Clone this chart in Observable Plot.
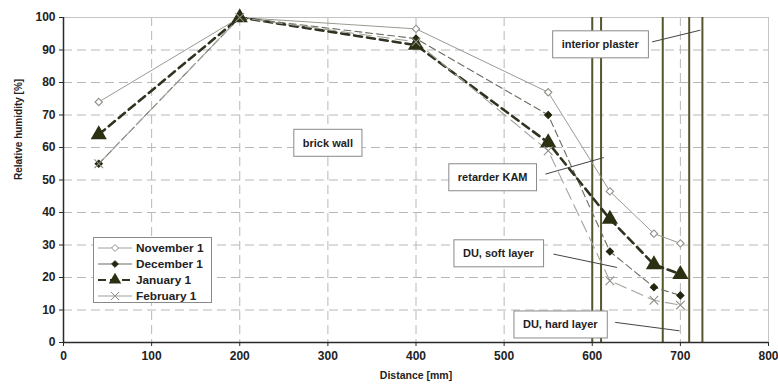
<!DOCTYPE html>
<html><head><meta charset="utf-8">
<script src="https://cdn.jsdelivr.net/npm/d3@7"></script>
<script src="https://cdn.jsdelivr.net/npm/@observablehq/plot@0.6"></script>
<style>
body{margin:0;background:#fff;font-family:"Liberation Sans",Arial,sans-serif}
#chart{position:relative;width:778px;height:385px}
.legend{position:absolute;left:93px;top:237px;width:119px;height:66px;border:1px solid #8a8a8a;background:#fff;box-sizing:border-box;padding:2px 0 0 3px}
.legend div{height:16px;display:flex;align-items:center;font:bold 11.8px "Liberation Sans",Arial,sans-serif;color:#222}
.legend svg{margin-right:3px}
</style>
</head><body><div id="chart"></div>
<script>
// ---- data ----
const distance = [40, 200, 400, 550, 620, 670, 700];
const november = [74, 100, 96.5, 77, 46.5, 33.5, 30.5];
const december = [55, 100, 93.5, 70, 28, 17, 14.5];
const january  = [64, 100, 91.5, 61.5, 38, 24, 21];
const february = [55, 100, 92.5, 59, 19, 13, 11.5];
const seriesNames = ["November 1", "December 1", "January 1", "February 1"];
const layerBoundaries = [600, 610, 680, 710, 725];
const xTicks = [0, 100, 200, 300, 400, 500, 600, 700, 800];
const yTicks = [0, 10, 20, 30, 40, 50, 60, 70, 80, 90, 100];
const annotationLabels = ["brick wall", "interior plaster", "retarder KAM", "DU, soft layer", "DU, hard layer"];
const annotationX = [300, 609, 487, 493.5, 563.7];
const annotationY = [61.3, 91.6, 50.7, 27.3, 5.4];
// leader lines (from box edge to the layer)
const leaderX1 = [668, 546.8, 556, 626];
const leaderY1 = [92.5, 51.8, 27.2, 6.2];
const leaderX2 = [722.7, 613, 628, 699];
const leaderY2 = [96.1, 56.9, 23.1, 3.6];

// ---- styles ----
const styles = {
  "November 1": {stroke:"#9a9a92", width:1, dash:null, symbol:"diamond2", r:3.3, fill:"#fff", mstroke:"#8f8f88"},
  "December 1": {stroke:"#6c6c60", width:1.1, dash:"7,4", symbol:"diamond2", r:3.2, fill:"#23260f", mstroke:"#23260f"},
  "January 1":  {stroke:"#2f3320", width:2.6, dash:"8,5", symbol:"triangle", r:6, fill:"#2b3012", mstroke:"none"},
  "February 1": {stroke:"#a4a49c", width:1.1, dash:"12,6", symbol:"times", r:4, fill:"none", mstroke:"#8e8e86"}
};
const valuesBySeries = [november, december, january, february];
const rows = [];
seriesNames.forEach((s, i) => distance.forEach((d, j) => rows.push({series:s, x:d, y:valuesBySeries[i][j]})));
const annotations = annotationLabels.map((t, i) => ({t, x:annotationX[i], y:annotationY[i]}));
const leaders = leaderX1.map((x1, i) => ({x1, y1:leaderY1[i], x2:leaderX2[i], y2:leaderY2[i]}));

const marks = [
  Plot.ruleY(yTicks.filter(v => v > 0 && v < 100), {stroke:"#b8b8b8", strokeDasharray:"9,5", strokeWidth:1}),
  Plot.ruleX(xTicks.filter(v => v > 0 && v < 800), {stroke:"#b8b8b8", strokeDasharray:"9,5", strokeWidth:1}),
  Plot.ruleY([100], {stroke:"#c4c4c4"}),
  Plot.ruleX([800], {stroke:"#c4c4c4"}),
  Plot.ruleX(layerBoundaries, {y1:0, y2:100, stroke:"#55562e", strokeWidth:2})
];
seriesNames.forEach(s => {
  const st = styles[s];
  const data = rows.filter(r => r.series === s);
  marks.push(Plot.line(data, {x:"x", y:"y", stroke:st.stroke, strokeWidth:st.width, strokeDasharray:st.dash}));
});
seriesNames.forEach(s => {
  const st = styles[s];
  const data = rows.filter(r => r.series === s);
  marks.push(Plot.dot(data, {x:"x", y:"y", symbol:st.symbol, r:st.r, fill:st.fill, stroke:st.mstroke, strokeWidth:1.1}));
});
marks.push(
  Plot.link(leaders, {x1:"x1", y1:"y1", x2:"x2", y2:"y2", stroke:"#444", strokeWidth:1}),
  Plot.text(annotations, {x:"x", y:"y", text:"t", fill:"#1e1e1e", fontWeight:"bold", fontSize:11}),
  Plot.ruleX([0], {stroke:"#2a2a2a", strokeWidth:1.5}),
  Plot.ruleY([0], {stroke:"#2a2a2a", strokeWidth:1.5}),
  Plot.axisX({ticks:xTicks, tickSize:4, tickPadding:5, label:null, stroke:"#2a2a2a", fontSize:12}),
  Plot.axisY({ticks:yTicks, tickSize:4, tickPadding:4, label:null, stroke:"#2a2a2a", fontSize:12}),
  Plot.text(["Distance [mm]"], {frameAnchor:"bottom", dy:36, fontSize:10.5, fontWeight:"bold", fill:"#222"}),
  Plot.text(["Relative humidity [%]"], {frameAnchor:"left", dx:-45, rotate:-90, fontSize:10, fill:"#222", fontWeight:"bold"})
);

const svg = Plot.plot({
  width:778, height:385,
  marginLeft:63, marginRight:10, marginTop:17, marginBottom:43,
  x:{domain:[0,800]},
  y:{domain:[0,100]},
  style:{fontFamily:"'Liberation Sans', Arial, sans-serif", fontSize:"11px", fontWeight:"bold", color:"#222", background:"#fff"},
  marks
});
const chart = document.getElementById("chart");
chart.appendChild(svg);

// boxes behind annotation labels
svg.querySelectorAll("text").forEach(t => {
  if (!annotationLabels.includes(t.textContent)) return;
  const b = t.getBBox();
  const padX = 9, padY = 7.5;
  const r = document.createElementNS("http://www.w3.org/2000/svg", "rect");
  r.setAttribute("x", b.x - padX);
  r.setAttribute("y", b.y - padY);
  r.setAttribute("width", b.width + 2 * padX);
  r.setAttribute("height", b.height + 2 * padY);
  r.setAttribute("fill", "#fff");
  r.setAttribute("stroke", "#8a8a8a");
  r.setAttribute("stroke-width", "1");
  if (t.getAttribute("transform")) r.setAttribute("transform", t.getAttribute("transform"));
  t.parentNode.insertBefore(r, t);
});

// legend
const legend = document.createElement("div");
legend.className = "legend";
const symType = {diamond2: d3.symbolDiamond2, diamond: d3.symbolDiamond, triangle: d3.symbolTriangle, times: d3.symbolTimes};
seriesNames.forEach(s => {
  const st = styles[s];
  const row = document.createElement("div");
  const size = Math.PI * st.r * st.r * (s === "January 1" ? 0.6 : 0.9);
  const path = d3.symbol().type(symType[st.symbol]).size(size)();
  row.innerHTML = `<svg width="36" height="14"><line x1="1" y1="7" x2="35" y2="7" stroke="${s==="December 1"||s==="January 1"?st.stroke:"#a0a098"}" stroke-width="${Math.min(st.width,2)}" ${s==="January 1"?'stroke-dasharray="8,4"':''}/><path transform="translate(18,7)" d="${path}" fill="${st.fill}" stroke="${st.mstroke}" stroke-width="1"/></svg><span>${s}</span>`;
  legend.appendChild(row);
});
chart.appendChild(legend);
</script>
</body></html>
